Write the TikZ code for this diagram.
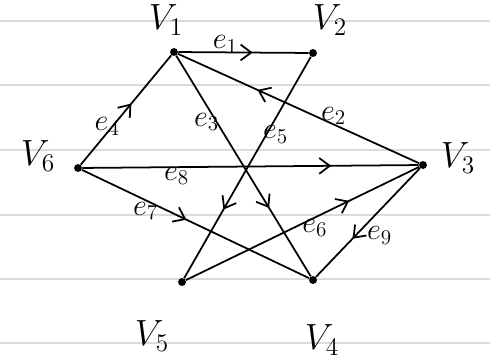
\documentclass[tikz,border=0pt]{standalone}
\usepackage{amsmath}
\usetikzlibrary{arrows.meta, decorations.markings, positioning}

\begin{document}
\begin{tikzpicture}[
    x=0.02cm, y=-0.02cm,
    vertex/.style={circle, fill=black, inner sep=0pt, minimum size=4.5pt},
    vlabel/.style={font=\huge, inner sep=0pt},
    elabel/.style={font=\LARGE, inner sep=0pt},
    edge/.style={line width=1pt},
    ruled/.style={line width=1.6pt, black!14},
    arrowat/.style={postaction={decorate}, decoration={markings,
        mark=at position #1 with {\arrow{Straight Barb[length=6pt, width=9pt, line width=1pt]}}}}
]
\useasboundingbox (0,0) rectangle (490,362);

% ruled paper
\foreach \y in {21,85,150,215,279,343}
    \draw[ruled] (0,\y) -- (490,\y);

% vertices
\node[vertex] (v1) at (174,52) {};
\node[vertex] (v2) at (313,53) {};
\node[vertex] (v3) at (423,165) {};
\node[vertex] (v4) at (313,280) {};
\node[vertex] (v5) at (182,282) {};
\node[vertex] (v6) at (78,168) {};

\node[vlabel] (lv1) at (166,20) {$V_1$};
\node[vlabel] (lv2) at (330,20) {$V_2$};
\node[vlabel] (lv3) at (458,158) {$V_3$};
\node[vlabel] (lv4) at (322,340) {$V_4$};
\node[vlabel] (lv5) at (152,336) {$V_5$};
\node[vlabel] (lv6) at (38,156) {$V_6$};

% edges
\draw[edge, arrowat=0.57] (v1) -- node[elabel, pos=0.36, shift={(0,-8)}] (e1) {$e_1$} (v2);
\draw[edge, arrowat=0.67] (v3) -- node[elabel, pos=0.35, shift={(-1,-9)}] (e2) {$e_2$} (v1);
\draw[edge, arrowat=0.69] (v1) -- node[elabel, pos=0.30, shift={(-10,0)}] (e3) {$e_3$} (v4);
\draw[edge, arrowat=0.56] (v6) -- node[elabel, pos=0.37, shift={(-7,2)}] (e4) {$e_4$} (v1);
\draw[edge, arrowat=0.69] (v2) -- node[elabel, pos=0.35, shift={(9,0)}] (e5) {$e_5$} (v5);
\draw[edge, arrowat=0.70] (v5) -- node[elabel, pos=0.54, shift={(3,9)}] (e6) {$e_6$} (v3);
\draw[edge, arrowat=0.46] (v6) -- node[elabel, pos=0.28, shift={(0,11)}] (e7) {$e_7$} (v4);
\draw[edge, arrowat=0.74] (v6) -- node[elabel, pos=0.28, shift={(0,9)}] (e8) {$e_8$} (v3);
\draw[edge, arrowat=0.65] (v3) -- node[elabel, pos=0.60, shift={(22,2)}] (e9) {$e_9$} (v4);

\end{tikzpicture}
\end{document}
